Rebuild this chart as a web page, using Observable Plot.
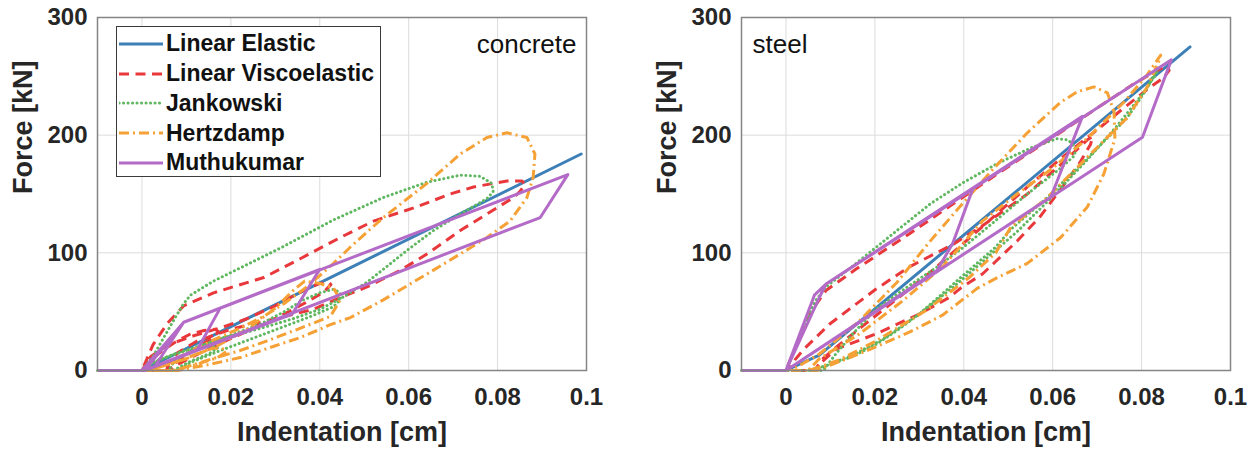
<!DOCTYPE html>
<html>
<head>
<meta charset="utf-8">
<script src="https://cdn.jsdelivr.net/npm/d3@7"></script>
<script src="https://cdn.jsdelivr.net/npm/@observablehq/plot@0.6"></script>
<style>
  body { margin: 0; background: #fff; }
  #figure { position: relative; width: 1257px; height: 450px; overflow: hidden;
            font-family: "Liberation Sans", Arial, Helvetica, sans-serif; }
  .panel { position: absolute; top: 0; }
  .legend { position: absolute; left: 116px; top: 26px; width: 265px; height: 151px;
            box-sizing: border-box; border: 1.5px solid #3a3a3a; background: #fff;
            padding-top: 2px; }
  .legend .row { display: flex; align-items: center; height: 29.75px; }
  .legend svg { display: block; margin-left: 2px; }
  .legend span { margin-left: 3px; font-size: 23px; font-weight: bold; color: #111; white-space: nowrap; }
</style>
</head>
<body>
<div id="figure"></div>
<script>
// Axis ticks and labels
const xTicks = [0, 0.02, 0.04, 0.06, 0.08, 0.1];
const xTickLabels = ["0", "0.02", "0.04", "0.06", "0.08", "0.1"];
const yTicks = [0, 100, 200, 300];
const xLabel = "Indentation [cm]";
const yLabel = "Force [kN]";

// Contact models (legend order)
const models = ["Linear Elastic", "Linear Viscoelastic", "Jankowski", "Hertzdamp", "Muthukumar"];
const colors = ["#3d80b8", "#e8383c", "#5fb75f", "#f6a136", "#b46bc8"];
const dashes = [null, "10,6.5", "0.1,4.4", "10,4,2,4", null];

// Concrete: [indentation (cm), force (kN)] along the contact history
const concreteElastic = [[-0.01,0],[0,0],[0.0988,184],[0,0]];

const concreteViscoelastic = [
  [-0.01,0],[0,0],[0.0025,22],[0.0057,40],[0.0094,55],[0.0161,66],[0.0274,79],[0.0356,95],
  [0.0446,113],[0.0521,127],[0.0618,139],[0.0693,150],[0.0746,156],[0.0821,161],[0.0855,161],
  [0.0862,158],[0.0850,152],[0.0836,147],[0.0776,133],[0.0716,119],[0.0641,99],[0.0581,85],
  [0.0506,71],[0.0446,62],[0.0386,52],[0.030,44],[0.0199,35],[0.0124,25],[0.008,15],[0.006,6],[0.0055,0],
  [0,0],[0.002,12],[0.006,22],[0.012,30],[0.0183,37],[0.0236,44],[0.030,55],[0.0363,68],[0.040,74],
  [0.042,75],[0.0425,73],[0.041,67],[0.037,58],[0.031,46],[0.024,34],[0.017,22],[0.011,11],[0.007,3],[0.0055,0],
  [0,0],[0.002,9],[0.005,18],[0.0079,25],[0.0109,31],[0.014,34],[0.0165,35],[0.0172,33],[0.016,28],
  [0.013,21],[0.010,13],[0.007,5],[0.0055,0]
];

const concreteJankowski = [
  [-0.01,0],[0,0],[0.0025,12],[0.0049,28],[0.0075,45],[0.0094,57],[0.0109,64],[0.0161,76],[0.0236,90],
  [0.0311,104],[0.0356,113],[0.0431,128],[0.0543,147],[0.0641,160],[0.0716,166],[0.0761,165],[0.0787,159],
  [0.0790,152],[0.0776,146],[0.0716,133],[0.0656,119],[0.0596,102],[0.0543,86],[0.0506,75],[0.0446,61],
  [0.040,52],[0.034,44],[0.0296,39],[0.024,33],[0.0184,28],[0.0131,21],[0.0095,13],[0.0071,7],[0.006,0],
  [0,0],[0.003,8],[0.008,15],[0.014,22],[0.020,30],[0.027,40],[0.032,50],[0.0363,60],[0.040,66],
  [0.0431,69],[0.0446,66],[0.0446,60],[0.043,54],[0.038,46],[0.031,36],[0.024,26],[0.017,16],[0.011,7],[0.008,0],
  [0,0],[0.002,6],[0.006,12],[0.010,17],[0.014,20],[0.0165,21],[0.017,19],[0.015,14],[0.011,8],[0.008,2],[0.007,0]
];

const concreteHertzdamp = [
  [-0.01,0],[0,0],[0.0034,4],[0.0087,12],[0.0161,26],[0.0221,36],[0.0274,46],[0.032,57],[0.0371,71],
  [0.0431,91],[0.0469,105],[0.0543,130],[0.0641,159],[0.0716,184],[0.0776,198],[0.0821,202],[0.0866,198],
  [0.0884,184],[0.0880,164],[0.0866,147],[0.0828,127],[0.0776,113],[0.0716,99],[0.0641,82],[0.0543,60],
  [0.0469,45],[0.0424,39],[0.0394,34],[0.0356,28],[0.030,21],[0.0221,11],[0.015,5],[0.010,1.5],[0.008,0],
  [0,0],[0.004,3],[0.010,10],[0.017,21],[0.0240,36],[0.030,53],[0.034,68],[0.0366,76],[0.040,74],
  [0.0431,70],[0.0446,60],[0.0435,53],[0.0424,46],[0.035,35],[0.028,25],[0.0221,17],[0.015,9],[0.010,3],[0.008,0],
  [0,0],[0.004,3],[0.009,9],[0.013,15],[0.016,19],[0.018,19],[0.019,16],[0.017,11],[0.013,6],[0.009,2],[0.007,0]
];

const concreteMuthukumar = [
  [-0.01,0],[0,0],[0.0094,41],[0.0958,166.5],[0.0896,130],[0.003,4],[0.0094,41],[0.040,86],[0.0338,48],
  [0.0006,0],[0.0094,41],[0.0176,53],[0.0125,18],[0.0006,0],[0,0]
];

// Steel: [indentation (cm), force (kN)] along the contact history
const steelElastic = [[-0.01,0],[0,0],[0.0075,13],[0.0909,275],[0.0075,13],[0,0]];

const steelViscoelastic = [
  [-0.01,0],[0,0],[0.003,28],[0.006,52],[0.009,68],[0.0157,86],[0.0277,116],[0.0393,146],[0.0483,169],
  [0.060,198],[0.070,223],[0.078,243],[0.083,254],[0.0858,259],[0.0862,255],[0.085,249],[0.0813,239],
  [0.0753,221],[0.0708,207],[0.0618,180],[0.0543,156],[0.0468,131],[0.0393,106],[0.032,82],[0.025,61],
  [0.018,40],[0.012,22],[0.008,9],[0.0065,0],
  [0,0],[0.004,18],[0.010,40],[0.0202,69],[0.0277,88],[0.0375,107],[0.0442,123],[0.0468,130],[0.0543,150],
  [0.0618,175],[0.0678,196],[0.0690,199],[0.0685,192],[0.066,176],[0.062,155],[0.057,130],[0.052,110],
  [0.0470,92],[0.0442,82],[0.0393,70],[0.0367,62],[0.030,48],[0.0202,31],[0.0112,18],[0.008,7],[0.0065,0]
];

const steelJankowski = [
  [-0.01,0],[0,0],[0.003,26],[0.0064,58],[0.009,71],[0.0161,92],[0.024,116],[0.0326,142],[0.040,160],
  [0.0476,176],[0.055,189],[0.061,197],[0.0635,196],[0.0650,190],[0.0650,183],[0.0618,172],[0.0543,150],
  [0.0464,125],[0.040,105],[0.034,88],[0.0277,72],[0.0202,52],[0.015,31],[0.0112,14],[0.009,3],[0.0085,0],
  [0.005,0],[0.010,5],[0.015,12],[0.0202,22],[0.025,34],[0.030,48],[0.0393,79],[0.0472,105],[0.0506,120],
  [0.0588,147],[0.0693,186],[0.0768,215],[0.0813,240],[0.0838,258],[0.0833,252],[0.080,234],[0.0745,208],
  [0.068,180],[0.060,148],[0.052,118],[0.045,95],[0.038,72],[0.030,48],[0.022,27],[0.015,13],[0.009,4],[0.006,0],[0,0]
];

const steelHertzdamp = [
  [-0.01,0],[0,0],[0.0025,3],[0.0075,14],[0.0165,42],[0.025,75],[0.032,108],[0.0393,140],[0.0468,172],
  [0.0543,202],[0.0618,228],[0.0656,237],[0.0693,241],[0.0723,236],[0.0738,220],[0.0740,197],[0.0715,167],
  [0.0678,139],[0.0618,113],[0.0543,91],[0.0476,79],[0.0431,70],[0.0352,47],[0.028,33],[0.0202,20],
  [0.013,9],[0.009,3],[0.007,0],
  [0.005,0],[0.0075,10],[0.0165,31],[0.0262,59],[0.0352,88],[0.0442,127],[0.052,150],[0.060,172],
  [0.068,198],[0.076,228],[0.081,250],[0.0843,268],[0.0838,262],[0.0813,241],[0.0768,215],[0.0693,187],
  [0.0588,147],[0.0506,122],[0.0472,100],[0.0412,79],[0.0315,51],[0.0202,25],[0.012,9],[0.0052,0],[0,0]
];

const steelMuthukumar = [
  [-0.01,0],[0,0],[0.0064,64],[0.009,73.5],[0.0867,264],[0.0802,198.3],[0,0],[0.0075,62],[0.009,73.5],
  [0.0667,216],[0.0596,147.4],[0,0],[0.0064,64],[0.009,73.5],[0.042,154],[0.0375,108],[0.034,85],[0,0]
];

const concreteSeries = [concreteElastic, concreteViscoelastic, concreteJankowski, concreteHertzdamp, concreteMuthukumar];
const steelSeries = [steelElastic, steelViscoelastic, steelJankowski, steelHertzdamp, steelMuthukumar];

const fontStack = '"Liberation Sans", Arial, Helvetica, sans-serif';
const lineWidth = 3;

function panel(series, tag, anchor) {
  const lines = series.map((pts, i) => Plot.line(pts, {
    x: d => d[0], y: d => d[1],
    stroke: colors[i], strokeWidth: lineWidth,
    strokeDasharray: dashes[i] ?? undefined,
    strokeLinejoin: "round", strokeLinecap: i === 2 ? "round" : "butt"
  }));
  return Plot.plot({
    width: 613, height: 450,
    marginLeft: 97, marginRight: 27, marginTop: 17, marginBottom: 80,
    style: { fontFamily: fontStack, fontSize: "24px", fontWeight: "bold", color: "#262626", background: "transparent" },
    x: { domain: [-0.01, 0.1] },
    y: { domain: [0, 300] },
    marks: [
      Plot.gridX(xTicks.slice(0, -1), { stroke: "#dcdcdc", strokeOpacity: 1, strokeWidth: 1 }),
      Plot.gridY(yTicks.slice(1, -1), { stroke: "#dcdcdc", strokeOpacity: 1, strokeWidth: 1 }),
      Plot.axisX(xTicks, { tickSize: 0, tickPadding: 17, tickFormat: (d, i) => xTickLabels[i],
                           fontSize: 24, fontWeight: "bold", label: null }),
      Plot.axisY(yTicks, { tickSize: 0, tickPadding: 10, fontSize: 24, fontWeight: "bold", label: null }),
      ...lines,
      Plot.frame({ stroke: "#858585", strokeWidth: 1.5 }),
      Plot.text([xLabel], { text: d => d, frameAnchor: "bottom", dy: 70, lineAnchor: "bottom",
                            fontSize: 27, fontWeight: "bold", fill: "#262626" }),
      Plot.text([yLabel], { text: d => d, frameAnchor: "left", dx: -74, rotate: -90,
                            fontSize: 27, fontWeight: "bold", fill: "#262626" }),
      Plot.text([tag], anchor === "right"
        ? { text: d => d, frameAnchor: "top-right", dx: -10, dy: 35, textAnchor: "end", lineAnchor: "bottom",
            fontSize: 26, fontWeight: "normal", fill: "#111" }
        : { text: d => d, frameAnchor: "top-left", dx: 11, dy: 35, textAnchor: "start", lineAnchor: "bottom",
            fontSize: 26, fontWeight: "normal", fill: "#111" })
    ]
  });
}

const fig = document.getElementById("figure");

const left = document.createElement("div");
left.className = "panel"; left.style.left = "0px";
left.appendChild(panel(concreteSeries, "concrete", "right"));
fig.appendChild(left);

const right = document.createElement("div");
right.className = "panel"; right.style.left = "644px";
right.appendChild(panel(steelSeries, "steel", "left"));
fig.appendChild(right);

// Legend inside the concrete panel
const legend = document.createElement("div");
legend.className = "legend";
models.forEach((name, i) => {
  const row = document.createElement("div");
  row.className = "row";
  const svg = d3.create("svg").attr("width", 44).attr("height", 12);
  svg.append("line").attr("x1", 0).attr("x2", 44).attr("y1", 6).attr("y2", 6)
    .attr("stroke", colors[i]).attr("stroke-width", lineWidth)
    .attr("stroke-dasharray", dashes[i])
    .attr("stroke-linecap", i === 2 ? "round" : "butt");
  row.appendChild(svg.node());
  const label = document.createElement("span");
  label.textContent = name;
  row.appendChild(label);
  legend.appendChild(row);
});
fig.appendChild(legend);
</script>
</body>
</html>
